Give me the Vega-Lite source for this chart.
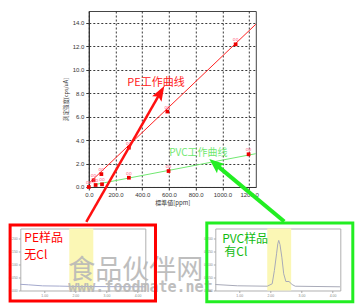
{
  "$schema": "https://vega.github.io/schema/vega-lite/v6.json",
  "background": "white",
  "padding": {"left": 7.3, "top": 10, "right": 0, "bottom": 0},
  "config": {"view": {"stroke": null}, "font": "Liberation Sans"},
  "datasets": {
    "pts": [
      {"ppm": 0, "val": 0, "series": "PE", "tag": "oo"},
      {"ppm": 36, "val": 0.57, "series": "PE", "tag": "oo"},
      {"ppm": 94, "val": 1.1, "series": "PE", "tag": "oo"},
      {"ppm": 300, "val": 3.35, "series": "PE", "tag": "oo"},
      {"ppm": 588, "val": 6.43, "series": "PE", "tag": "oo"},
      {"ppm": 1099, "val": 12.16, "series": "PE", "tag": "oo"},
      {"ppm": 51, "val": 0.17, "series": "PVC", "tag": "oo"},
      {"ppm": 99, "val": 0.23, "series": "PVC", "tag": "oo"},
      {"ppm": 300, "val": 0.79, "series": "PVC", "tag": "oo"},
      {"ppm": 597, "val": 1.36, "series": "PVC", "tag": "oo"},
      {"ppm": 1196, "val": 2.79, "series": "PVC", "tag": "oo"}
    ],
    "fits": [
      {"ppm": 6, "val": 0.37, "series": "PE"},
      {"ppm": 1250, "val": 13.87, "series": "PE"},
      {"ppm": 56, "val": 0.23, "series": "PVC"},
      {"ppm": 1250, "val": 2.84, "series": "PVC"}
    ],
    "arrowRed": [{"ppm": -18.7, "val": -2.98, "ppm2": 535, "val2": 8.02, "tipx": 565, "tipy": 8.61}],
    "arrowGreen": [{"ppm": 1463, "val": -2.94, "ppm2": 947, "val2": 1.95, "tipx": 902, "tipy": 2.39}],
    "curveLabels": [
      {"ppm": 288, "val": 8.58, "label": "PE工作曲线", "series": "PE"},
      {"ppm": 602, "val": 2.64, "label": "PVC工作曲线", "series": "PVC"}
    ],
    "peTrace": [
      {"t": 0.23, "v": 0.024}, {"t": 0.5, "v": 0.022}, {"t": 0.95, "v": 0.018},
      {"t": 1.5, "v": 0.017}, {"t": 2.03, "v": 0.0155}, {"t": 3.0, "v": 0.015}, {"t": 4.25, "v": 0.0143}
    ],
    "pvcTrace": [
      {"t": 0.23, "v": 0.0232}, {"t": 0.94, "v": 0.0182}, {"t": 1.9, "v": 0.0166},
      {"t": 2.06, "v": 0.0259}, {"t": 2.13, "v": 0.0774}, {"t": 2.2, "v": 0.142},
      {"t": 2.24, "v": 0.181}, {"t": 2.27, "v": 0.194}, {"t": 2.31, "v": 0.178},
      {"t": 2.37, "v": 0.129}, {"t": 2.43, "v": 0.0646}, {"t": 2.5, "v": 0.0348},
      {"t": 2.6, "v": 0.0348}, {"t": 2.7, "v": 0.0232}, {"t": 2.8, "v": 0.0166},
      {"t": 4.24, "v": 0.0143}
    ],
    "peBand": [{"t": 1.806, "t2": 2.578, "v": 0, "v2": 0.24}],
    "pvcBand": [{"t": 1.9, "t2": 2.67, "v": 0, "v2": 0.24}],
    "peBox": [{"t": -0.098, "t2": 4.578, "v": -0.0406, "v2": 0.2535}],
    "pvcBox": [{"t": -0.0434, "t2": 4.652, "v": -0.0434, "v2": 0.2613}],
    "peText": [
      {"t": 0.36, "v": 0.186, "label": "PE样品"},
      {"t": 0.36, "v": 0.12, "label": "无Cl"}
    ],
    "pvcText": [
      {"t": 0.45, "v": 0.182, "label": "PVC样品"},
      {"t": 0.52, "v": 0.132, "label": "有Cl"}
    ],
    "watermark": [
      {"t": 1.774, "v": 0.046, "label": "食品伙伴网", "kind": "cn"},
      {"t": 1.774, "v": -0.0077, "label": "www.foodmate.net", "kind": "url"}
    ]
  },
  "concat": [
    {
      "hconcat": [
        {"width": 60, "height": 150, "data": {"values": []}, "mark": "point"},
        {
          "width": 167,
          "height": 176,
          "view": {"stroke": "#444", "strokeWidth": 1},
          "encoding": {
            "x": {
              "field": "ppm", "type": "quantitative",
              "scale": {"domain": [0, 1250], "nice": false, "zero": false},
              "axis": {
                "values": [0, 200, 400, 600, 800, 1000, 1200], "format": ".1f",
                "title": "標準値[ppm]", "titleFont": "Noto Sans CJK JP", "titleFontSize": 6,
                "titleFontWeight": "normal", "titleColor": "#333", "titlePadding": 2,
                "labelFontSize": 6, "labelColor": "#333", "labelPadding": 2, "labelFlush": false,
                "tickSize": 3, "tickColor": "#333", "domainColor": "#333",
                "grid": true, "gridColor": "#222", "gridDash": [2, 2], "gridOpacity": 0.9
              }
            },
            "y": {
              "field": "val", "type": "quantitative",
              "scale": {"domain": [0, 15], "nice": false, "zero": false},
              "axis": {
                "values": [0, 2, 4, 6, 8, 10, 12, 14], "format": ".1f",
                "title": "測定強度[cps/uA]", "titleFont": "Noto Sans CJK JP", "titleFontSize": 5.5,
                "titleFontWeight": "normal", "titleColor": "#333", "titlePadding": 4,
                "labelFontSize": 6, "labelColor": "#333", "labelPadding": 2,
                "tickSize": 3, "tickColor": "#333", "domainColor": "#333",
                "grid": true, "gridColor": "#222", "gridDash": [2, 2], "gridOpacity": 0.9
              }
            }
          },
          "layer": [
            {
              "data": {"name": "fits"},
              "mark": {"type": "line", "strokeWidth": 1},
              "encoding": {
                "color": {"field": "series", "type": "nominal", "legend": null,
                  "scale": {"domain": ["PE", "PVC"], "range": ["#ff2020", "#70e870"]}}
              }
            },
            {
              "data": {"name": "pts"},
              "mark": {"type": "square", "filled": true, "size": 14, "color": "#ee0000", "opacity": 1}
            },
            {
              "data": {"name": "pts"},
              "mark": {"type": "text", "fontSize": 5, "color": "#ff6f8f", "dy": -5},
              "encoding": {"text": {"field": "tag"}}
            },
            {
              "data": {"name": "arrowRed"},
              "mark": {"type": "rule", "color": "#ff1010", "strokeWidth": 2.5},
              "encoding": {"x2": {"field": "ppm2"}, "y2": {"field": "val2"}}
            },
            {
              "data": {"name": "arrowRed"},
              "mark": {"type": "point", "shape": "M0,0L0.36,1L0,0.8L-0.36,1Z", "filled": true,
                "size": 900, "angle": 29.9, "color": "#ff1010", "opacity": 1},
              "encoding": {"x": {"field": "tipx", "type": "quantitative"}, "y": {"field": "tipy", "type": "quantitative"}}
            },
            {
              "data": {"name": "arrowGreen"},
              "mark": {"type": "rule", "color": "#22ee22", "strokeWidth": 4},
              "encoding": {"x2": {"field": "ppm2"}, "y2": {"field": "val2"}}
            },
            {
              "data": {"name": "arrowGreen"},
              "mark": {"type": "point", "shape": "M0,0L0.4,1L0,0.8L-0.4,1Z", "filled": true,
                "size": 900, "angle": 309.8, "color": "#22ee22", "opacity": 1},
              "encoding": {"x": {"field": "tipx", "type": "quantitative"}, "y": {"field": "tipy", "type": "quantitative"}}
            },
            {
              "data": {"name": "curveLabels"},
              "mark": {"type": "text", "align": "left", "baseline": "alphabetic", "font": "Noto Sans CJK SC"},
              "encoding": {
                "text": {"field": "label"},
                "size": {"field": "series", "type": "nominal", "legend": null,
                  "scale": {"domain": ["PE", "PVC"], "range": [11, 10]}},
                "color": {"field": "series", "type": "nominal", "legend": null,
                  "scale": {"domain": ["PE", "PVC"], "range": ["#ff0000", "#22bb22"]}}
              }
            }
          ]
        }
      ],
      "spacing": 8.5,
      "bounds": "flush"
    },
    {
      "hconcat": [
        {
          "width": 125,
          "height": 62,
          "view": {"stroke": "#b0b0b0", "strokeWidth": 1},
          "encoding": {
            "x": {
              "field": "t", "type": "quantitative",
              "scale": {"domain": [0.23, 4.25], "nice": false, "zero": false},
              "axis": {"values": [1, 2, 3, 4], "format": ".2f", "title": null, "labelFontSize": 3.5,
                "labelColor": "#888", "tickSize": 2, "tickColor": "#aaa", "domain": false, "grid": false, "labelPadding": 1}
            },
            "y": {
              "field": "v", "type": "quantitative",
              "scale": {"domain": [0, 0.24], "nice": false, "zero": false},
              "axis": {"values": [0, 0.05, 0.1, 0.15, 0.2], "format": ".3f", "title": null, "labelFontSize": 3.5,
                "labelColor": "#888", "tickSize": 2, "tickColor": "#aaa", "domain": false, "grid": false, "labelPadding": 1}
            }
          },
          "layer": [
            {
              "data": {"name": "peBand"},
              "mark": {"type": "rect", "color": "#fbf7b5", "opacity": 1},
              "encoding": {"x2": {"field": "t2"}, "y2": {"field": "v2"}}
            },
            {
              "data": {"name": "peTrace"},
              "mark": {"type": "line", "color": "#a3a8cc", "strokeWidth": 1}
            },
            {
              "data": {"name": "peText"},
              "mark": {"type": "text", "align": "left", "baseline": "alphabetic", "font": "Noto Sans CJK SC", "fontSize": 12, "color": "#ff0000"},
              "encoding": {"text": {"field": "label"}}
            },
            {
              "data": {"name": "watermark"},
              "transform": [{"filter": "datum.kind === 'cn'"}],
              "mark": {"type": "text", "align": "left", "baseline": "alphabetic", "font": "Noto Sans CJK SC", "fontSize": 27, "color": "#b8b8b8", "opacity": 0.9},
              "encoding": {"text": {"field": "label"}}
            },
            {
              "data": {"name": "watermark"},
              "transform": [{"filter": "datum.kind === 'url'"}],
              "mark": {"type": "text", "align": "left", "baseline": "alphabetic", "font": "DejaVu Sans Mono", "fontWeight": "bold", "fontSize": 15, "color": "#b8b8b8", "opacity": 0.9},
              "encoding": {"text": {"field": "label"}}
            },
            {
              "data": {"name": "peBox"},
              "mark": {"type": "rect", "filled": false, "fill": null, "stroke": "#ff0000", "strokeWidth": 3, "opacity": 1},
              "encoding": {"x2": {"field": "t2"}, "y2": {"field": "v2"}}
            }
          ]
        },
        {
          "width": 125,
          "height": 62,
          "view": {"stroke": "#b0b0b0", "strokeWidth": 1},
          "encoding": {
            "x": {
              "field": "t", "type": "quantitative",
              "scale": {"domain": [0.23, 4.25], "nice": false, "zero": false},
              "axis": {"values": [1, 2, 3, 4], "format": ".2f", "title": null, "labelFontSize": 3.5,
                "labelColor": "#888", "tickSize": 2, "tickColor": "#aaa", "domain": false, "grid": false, "labelPadding": 1}
            },
            "y": {
              "field": "v", "type": "quantitative",
              "scale": {"domain": [0, 0.24], "nice": false, "zero": false},
              "axis": {"values": [0, 0.05, 0.1, 0.15, 0.2], "format": ".3f", "title": null, "labelFontSize": 3.5,
                "labelColor": "#888", "tickSize": 2, "tickColor": "#aaa", "domain": false, "grid": false, "labelPadding": 1}
            }
          },
          "layer": [
            {
              "data": {"name": "pvcBand"},
              "mark": {"type": "rect", "color": "#fbf7b5", "opacity": 1},
              "encoding": {"x2": {"field": "t2"}, "y2": {"field": "v2"}}
            },
            {
              "data": {"name": "pvcTrace"},
              "mark": {"type": "line", "color": "#a8aab8", "strokeWidth": 1}
            },
            {
              "data": {"name": "pvcText"},
              "mark": {"type": "text", "align": "left", "baseline": "alphabetic", "font": "Noto Sans CJK SC", "fontSize": 12, "color": "#11bb11"},
              "encoding": {"text": {"field": "label"}}
            },
            {
              "data": {"name": "pvcBox"},
              "mark": {"type": "rect", "filled": false, "fill": null, "stroke": "#22ee22", "strokeWidth": 3, "opacity": 1},
              "encoding": {"x2": {"field": "t2"}, "y2": {"field": "v2"}}
            }
          ]
        }
      ],
      "spacing": 70,
      "bounds": "flush"
    }
  ],
  "columns": 1,
  "align": "none",
  "spacing": -3.5
}
